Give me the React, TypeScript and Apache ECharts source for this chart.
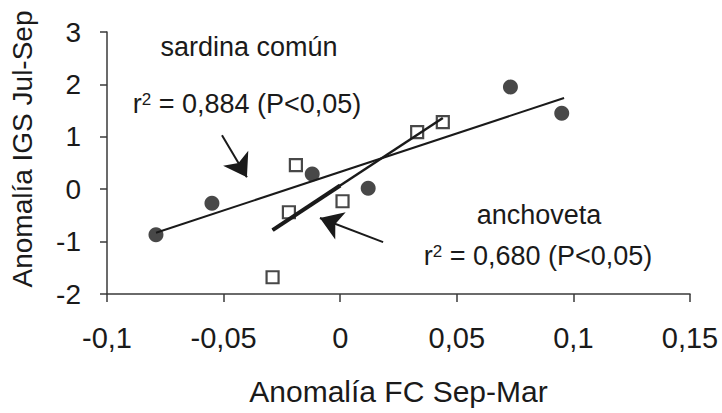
import React, { useEffect, useRef } from "react";
import * as echarts from "echarts";

// Sardina común (filled circles)
const sardinaX = [-0.079, -0.055, -0.012, 0.012, 0.073, 0.095];
const sardinaY = [-0.87, -0.27, 0.29, 0.02, 1.95, 1.45];
// Anchoveta (open squares)
const anchovetaX = [-0.029, -0.022, -0.019, 0.001, 0.033, 0.044];
const anchovetaY = [-1.68, -0.44, 0.46, -0.23, 1.09, 1.28];
// Regression lines (end points)
const sardinaFitX = [-0.079, 0.096];
const sardinaFitY = [-0.83, 1.74];
const anchovetaFitX = [-0.029, 0.044];
const anchovetaFitY = [-0.78, 1.36];
const anchovetaThickX = [-0.029, 0.0];
const anchovetaThickY = [-0.78, 0.07];
// Annotation arrows (data coordinates): [x1, y1, x2, y2]
const arrowSardina = [-0.0507, 1.03, -0.04, 0.23];
const arrowAnchoveta = [0.0184, -1.01, -0.0087, -0.55];
// Axes
const xMin = -0.1, xMax = 0.15, xStep = 0.05;
const yMin = -2, yMax = 3, yStep = 1;
const xTitle = "Anomalía FC Sep-Mar";
const yTitle = "Anomalía IGS Jul-Sep";

const FONT = "'Liberation Sans', Arial, sans-serif";
const INK = "#1a1a1a";

const zip = (xs: number[], ys: number[]) => xs.map((x, i) => [x, ys[i]]);
const fmt = (v: number) => parseFloat(v.toFixed(2)).toString().replace(".", ",");

export default function App() {
  const ref = useRef<HTMLDivElement>(null);
  useEffect(() => {
    if (!ref.current) return;
    const chart = echarts.init(ref.current, null, { renderer: "svg" });
    const arrow = (a: number[]) => [
      { coord: [a[0], a[1]] },
      { coord: [a[2], a[3]] },
    ];
    const annot = (x: number, y: number, text: string) => ({
      type: "text",
      x,
      y,
      style: {
        text,
        fontFamily: FONT,
        fontSize: 27,
        fill: INK,
        align: "center",
        verticalAlign: "middle",
        rich: { sup: { fontFamily: FONT, fontSize: 17, fill: INK, verticalAlign: "top" } },
      },
    });
    chart.setOption({
      animation: false,
      backgroundColor: "#ffffff",
      grid: { left: 107, right: 32, top: 32, bottom: 119 },
      xAxis: {
        type: "value",
        min: xMin,
        max: xMax,
        interval: xStep,
        name: xTitle,
        nameLocation: "middle",
        nameGap: 82,
        nameTextStyle: { fontFamily: FONT, fontSize: 30, color: INK },
        axisLine: { show: true, onZero: false, lineStyle: { color: "#3a3a3a", width: 1.5 } },
        axisTick: { show: true, length: 8, lineStyle: { color: "#3a3a3a", width: 1.5 } },
        axisLabel: { fontFamily: FONT, fontSize: 29, color: INK, margin: 29, formatter: fmt },
        splitLine: { show: false },
      },
      yAxis: {
        type: "value",
        min: yMin,
        max: yMax,
        interval: yStep,
        axisLine: { show: true, onZero: false, lineStyle: { color: "#3a3a3a", width: 1.5 } },
        axisTick: { show: true, length: 7, lineStyle: { color: "#3a3a3a", width: 1.5 } },
        axisLabel: { fontFamily: FONT, fontSize: 28, color: INK, margin: 26, formatter: fmt },
        splitLine: { show: false },
      },
      series: [
        {
          type: "line",
          data: zip(sardinaFitX, sardinaFitY),
          symbol: "none",
          lineStyle: { color: INK, width: 2 },
          z: 2,
          silent: true,
          markLine: {
            silent: true,
            symbol: ["none", "arrow"],
            symbolSize: 22,
            label: { show: false },
            lineStyle: { color: INK, width: 2, type: "solid" },
            data: [arrow(arrowSardina), arrow(arrowAnchoveta)],
          },
        },
        {
          type: "line",
          data: zip(anchovetaFitX, anchovetaFitY),
          symbol: "none",
          lineStyle: { color: INK, width: 2.5 },
          z: 2,
          silent: true,
        },
        {
          type: "line",
          data: zip(anchovetaThickX, anchovetaThickY),
          symbol: "none",
          lineStyle: { color: INK, width: 4 },
          z: 2,
          silent: true,
        },
        {
          type: "scatter",
          data: zip(sardinaX, sardinaY),
          symbol: "circle",
          symbolSize: 15,
          itemStyle: { color: INK },
          z: 3,
        },
        {
          type: "scatter",
          data: zip(anchovetaX, anchovetaY),
          symbol: "rect",
          symbolSize: 12,
          itemStyle: { color: "rgba(255,255,255,0)", borderColor: INK, borderWidth: 2.2 },
          z: 3,
        },
      ],
      graphic: [
        {
          type: "text",
          x: 22,
          y: 149,
          rotation: Math.PI / 2,
          style: {
            text: yTitle,
            fontFamily: FONT,
            fontSize: 28,
            fill: INK,
            align: "center",
            verticalAlign: "middle",
          },
        },
        annot(249, 47, "sardina común"),
        annot(247, 104, "r{sup|2} = 0,884 (P<0,05)"),
        annot(539, 215, "anchoveta"),
        annot(538, 256, "r{sup|2} = 0,680 (P<0,05)"),
      ],
    });
    return () => chart.dispose();
  }, []);
  return (
    <div
      ref={ref}
      style={{ position: "fixed", left: 0, top: 0, width: 722, height: 413, background: "#fff" }}
    />
  );
}
